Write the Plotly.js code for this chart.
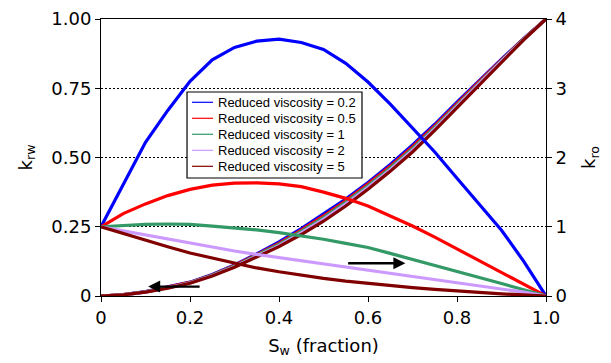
<!DOCTYPE html>
<html>
<head>
<meta charset="utf-8">
<script src="https://cdn.plot.ly/plotly-3.0.1.min.js"></script>
<style>html,body{margin:0;padding:0;background:#fff;}#chart{width:611px;height:363px;}</style>
</head>
<body>
<div id="chart"></div>
<script>
// Water saturation (fraction)
const sw = [0, 0.05, 0.1, 0.15, 0.2, 0.25, 0.3, 0.35, 0.4, 0.45, 0.5, 0.55, 0.6, 0.65, 0.7, 0.75, 0.8, 0.85, 0.9, 0.95, 1];

const seriesNames = ["Reduced viscosity = 0.2", "Reduced viscosity = 0.5", "Reduced viscosity = 1", "Reduced viscosity = 2", "Reduced viscosity = 5"];
const seriesColors = ["#0000ff", "#ff0000", "#339966", "#cc99ff", "#800000"];

// k_ro (right axis)
const kroV02 = [1, 1.62, 2.22, 2.68, 3.1, 3.41, 3.59, 3.68, 3.71, 3.66, 3.56, 3.36, 3.09, 2.77, 2.42, 2.08, 1.70, 1.33, 0.95, 0.5, 0];
const kroV05 = [1, 1.19, 1.33, 1.45, 1.54, 1.60, 1.63, 1.635, 1.62, 1.58, 1.50, 1.41, 1.30, 1.16, 1.01, 0.85, 0.68, 0.50, 0.33, 0.16, 0];
const kroV1  = [1, 1.02, 1.035, 1.04, 1.035, 1.01, 0.985, 0.955, 0.915, 0.87, 0.82, 0.76, 0.70, 0.615, 0.53, 0.44, 0.35, 0.265, 0.18, 0.09, 0];
const kroV2  = [1, 0.94, 0.88, 0.82, 0.76, 0.705, 0.65, 0.60, 0.555, 0.51, 0.47, 0.425, 0.38, 0.33, 0.28, 0.235, 0.19, 0.15, 0.11, 0.055, 0];
const kroV5  = [1, 0.90, 0.81, 0.71, 0.62, 0.545, 0.47, 0.405, 0.35, 0.30, 0.255, 0.215, 0.18, 0.15, 0.12, 0.095, 0.07, 0.05, 0.03, 0.015, 0];

// k_rw (left axis)
const krwV02 = [0, 0.005, 0.016, 0.032, 0.05, 0.078, 0.112, 0.152, 0.195, 0.243, 0.295, 0.35, 0.41, 0.475, 0.545, 0.62, 0.70, 0.778, 0.855, 0.93, 1];
const krwV05 = [0, 0.005, 0.015, 0.031, 0.049, 0.076, 0.110, 0.149, 0.190, 0.238, 0.289, 0.344, 0.404, 0.468, 0.538, 0.614, 0.695, 0.774, 0.852, 0.929, 1];
const krwV1  = [0, 0.004, 0.015, 0.030, 0.048, 0.075, 0.108, 0.146, 0.186, 0.233, 0.283, 0.338, 0.398, 0.462, 0.532, 0.609, 0.690, 0.770, 0.850, 0.928, 1];
const krwV2  = [0, 0.004, 0.014, 0.029, 0.047, 0.073, 0.106, 0.143, 0.182, 0.228, 0.277, 0.332, 0.392, 0.456, 0.526, 0.603, 0.685, 0.766, 0.848, 0.926, 1];
const krwV5  = [0, 0.004, 0.014, 0.028, 0.046, 0.072, 0.104, 0.140, 0.178, 0.222, 0.270, 0.325, 0.385, 0.450, 0.520, 0.598, 0.680, 0.762, 0.845, 0.925, 1];

const xTicks = [0, 0.2, 0.4, 0.6, 0.8, 1];
const xTickText = ["0", "0.2", "0.4", "0.6", "0.8", "1.0"];
const yTicks = [0, 0.25, 0.5, 0.75, 1];
const yTickText = ["0", "0.25", "0.50", "0.75", "1.00"];
const y2Ticks = [0, 1, 2, 3, 4];
const y2TickText = ["0", "1", "2", "3", "4"];

const kroSets = [kroV02, kroV05, kroV1, kroV2, kroV5];
const krwSets = [krwV02, krwV05, krwV1, krwV2, krwV5];

const traces = [];
kroSets.forEach((ys, i) => traces.push({
  x: sw, y: ys, yaxis: "y2", type: "scatter", mode: "lines", name: seriesNames[i],
  line: {color: seriesColors[i], width: 3.2}, showlegend: false, hoverinfo: "skip"
}));
krwSets.forEach((ys, i) => traces.push({
  x: sw, y: ys, yaxis: "y", type: "scatter", mode: "lines", name: seriesNames[i],
  line: {color: seriesColors[i], width: 3.2}, showlegend: false, hoverinfo: "skip"
}));

const axisFont = "DejaVu Sans, Liberation Sans, Arial, sans-serif";
const legendFont = "Liberation Sans, Arial, Helvetica, sans-serif";

// Legend box (paper coordinates) drawn as a white framed box with sample lines
const legX0 = 0.1933, legX1 = 0.5865, legYTop = 0.7365, legYBot = 0.426;
const legRowY = [0.6993, 0.6415, 0.5838, 0.526, 0.4682];
const shapes = [{
  type: "rect", xref: "paper", yref: "paper", x0: legX0, x1: legX1, y0: legYBot, y1: legYTop,
  fillcolor: "#fff", line: {color: "#000", width: 1.2}, layer: "above"
}];
const annotations = [];
seriesNames.forEach((n, i) => {
  shapes.push({
    type: "line", xref: "paper", yref: "paper", x0: 0.2045, x1: 0.2517, y0: legRowY[i], y1: legRowY[i],
    line: {color: seriesColors[i], width: 1.2}, layer: "above"
  });
  annotations.push({
    xref: "paper", yref: "paper", x: 0.2585, y: legRowY[i], xanchor: "left", yanchor: "middle",
    text: n, showarrow: false, font: {family: legendFont, size: 13, color: "#000"}
  });
});
annotations.push(
  {x: 0.106, y: 0.034, xref: "x", yref: "y", ax: 0.225, ay: 0.034, axref: "x", ayref: "y",
   text: "", showarrow: true, arrowhead: 2, arrowsize: 1, arrowwidth: 2.4, arrowcolor: "#000"},
  {x: 0.684, y: 0.118, xref: "x", yref: "y", ax: 0.552, ay: 0.118, axref: "x", ayref: "y",
   text: "", showarrow: true, arrowhead: 2, arrowsize: 1, arrowwidth: 2.4, arrowcolor: "#000"}
);

const layout = {
  width: 611, height: 363,
  margin: {l: 101, r: 65, t: 19, b: 67, pad: 0},
  paper_bgcolor: "#fff", plot_bgcolor: "#fff",
  font: {family: axisFont, color: "#000", size: 18},
  showlegend: false,
  xaxis: {
    range: [0, 1], tickmode: "array", tickvals: xTicks, ticktext: xTickText,
    ticks: "outside", ticklen: 5, tickcolor: "#000", tickwidth: 1,
    showline: true, linecolor: "#000", linewidth: 1, mirror: true,
    showgrid: false, zeroline: false, tickfont: {size: 18},
    title: {text: "S<sub>w</sub> (fraction)", font: {size: 18}, standoff: 12}
  },
  yaxis: {
    range: [0, 1], tickmode: "array", tickvals: yTicks, ticktext: yTickText,
    ticks: "outside", ticklen: 5, tickcolor: "#000", tickwidth: 1,
    showline: true, linecolor: "#000", linewidth: 1,
    showgrid: true, gridcolor: "#000", gridwidth: 1, griddash: "2px,2px",
    zeroline: false, tickfont: {size: 18},
    title: {text: "k<sub>rw</sub>", font: {size: 18}, standoff: 14}
  },
  yaxis2: {
    range: [0, 4], overlaying: "y", side: "right", tickmode: "array",
    tickvals: y2Ticks, ticktext: y2TickText,
    ticks: "outside", ticklen: 5, tickcolor: "#000", tickwidth: 1,
    showline: true, linecolor: "#000", linewidth: 1,
    showgrid: false, zeroline: false, tickfont: {size: 18},
    title: {text: "k<sub>ro</sub>", font: {size: 18}, standoff: 16}
  },
  shapes: shapes,
  annotations: annotations
};

Plotly.newPlot("chart", traces, layout, {displayModeBar: false, staticPlot: true});
</script>
</body>
</html>
